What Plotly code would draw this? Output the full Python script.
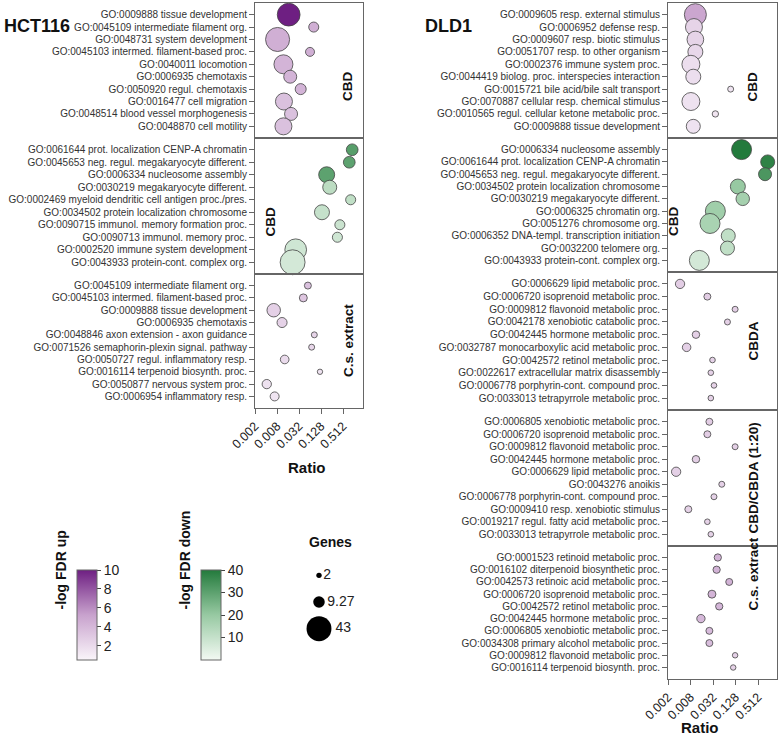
import numpy as np
import plotly.graph_objects as go

W, H = 778, 739

# ---------------- DATA ----------------
hct_cbd_up_terms = ["GO:0009888 tissue development", "GO:0045109 intermediate filament org.",
    "GO:0048731 system development", "GO:0045103 intermed. filament-based proc.",
    "GO:0040011 locomotion", "GO:0006935 chemotaxis", "GO:0050920 regul. chemotaxis",
    "GO:0016477 cell migration", "GO:0048514 blood vessel morphogenesis", "GO:0048870 cell motility"]
hct_cbd_up_ratio = [0.0167, 0.081, 0.0083, 0.064, 0.012, 0.0184, 0.0356, 0.0124, 0.0194, 0.012]
hct_cbd_up_genes = [36, 7, 40, 5.6, 25, 11.7, 8.4, 20, 11.7, 20]
hct_cbd_up_fdr = [10, 4.5, 4.5, 4.5, 4.2, 4.2, 4.2, 3.5, 3.5, 3.5]

hct_cbd_dn_terms = ["GO:0061644 prot. localization CENP-A chromatin", "GO:0045653 neg. regul. megakaryocyte different.",
    "GO:0006334 nucleosome assembly", "GO:0030219 megakaryocyte different.",
    "GO:0002469 myeloid dendritic cell antigen proc./pres.", "GO:0034502 protein localization chromosome",
    "GO:0090715 immunol. memory formation proc.", "GO:0090713 immunol. memory proc.",
    "GO:0002520 immune system development", "GO:0043933 protein-cont. complex org."]
hct_cbd_dn_ratio = [0.914, 0.76, 0.183, 0.222, 0.83, 0.136, 0.42, 0.36, 0.026, 0.0214]
hct_cbd_dn_genes = [9.5, 9.5, 17.7, 13.6, 7, 15.6, 7, 7, 32.6, 43]
hct_cbd_dn_fdr = [31, 30, 30, 12, 11, 10, 9, 8, 8, 7]

hct_cs_terms = ["GO:0045109 intermediate filament org.", "GO:0045103 intermed. filament-based proc.",
    "GO:0009888 tissue development", "GO:0006935 chemotaxis", "GO:0048846 axon extension - axon guidance",
    "GO:0071526 semaphorin-plexin signal. pathway", "GO:0050727 regul. inflammatory resp.",
    "GO:0016114 terpenoid biosynth. proc.", "GO:0050877 nervous system proc.", "GO:0006954 inflammatory resp."]
hct_cs_ratio = [0.056, 0.042, 0.0065, 0.011, 0.084, 0.071, 0.013, 0.12, 0.0042, 0.0069]
hct_cs_genes = [3.4, 4.4, 12.6, 7, 2.5, 2.5, 5.2, 2, 6, 5.6]
hct_cs_fdr = [3.5, 3.2, 2.6, 2.5, 2.4, 2.2, 2.0, 1.6, 1.6, 1.5]

dld_cbd_up_terms = ["GO:0009605 resp. external stimulus", "GO:0006952 defense resp.",
    "GO:0009607 resp. biotic stimulus", "GO:0051707 resp. to other organism",
    "GO:0002376 immune system proc.", "GO:0044419 biolog. proc. interspecies interaction",
    "GO:0015721 bile acid/bile salt transport", "GO:0070887 cellular resp. chemical stimulus",
    "GO:0010565 regul. cellular ketone metabolic proc.", "GO:0009888 tissue development"]
dld_cbd_up_ratio = [0.0108, 0.0099, 0.0108, 0.0108, 0.0082, 0.0095, 0.095, 0.0082, 0.037, 0.0095]
dld_cbd_up_genes = [33.5, 20, 19.3, 15.6, 22.4, 15.6, 2.5, 22.4, 2.8, 13.6]
dld_cbd_up_fdr = [5, 2.4, 2.4, 2.2, 1.8, 1.8, 1.5, 1.6, 1.4, 1.6]

dld_cbd_dn_terms = ["GO:0006334 nucleosome assembly", "GO:0061644 prot. localization CENP-A chromatin",
    "GO:0045653 neg. regul. megakaryocyte different.", "GO:0034502 protein localization chromosome",
    "GO:0030219 megakaryocyte different.", "GO:0006325 chromatin org.", "GO:0051276 chromosome org.",
    "GO:0006352 DNA-templ. transcription initiation", "GO:0032200 telomere org.", "GO:0043933 protein-cont. complex org."]
dld_cbd_dn_ratio = [0.186, 0.93, 0.79, 0.148, 0.2, 0.037, 0.0266, 0.082, 0.078, 0.0138]
dld_cbd_dn_genes = [27.7, 13.6, 11.7, 15.6, 12.6, 27.7, 27.7, 13.6, 13.6, 27.7]
dld_cbd_dn_fdr = [40, 38, 33, 20, 17, 18, 16, 11, 11, 7]

dld_cbda_terms = ["GO:0006629 lipid metabolic proc.", "GO:0006720 isoprenoid metabolic proc.",
    "GO:0009812 flavonoid metabolic proc.", "GO:0042178 xenobiotic catabolic proc.",
    "GO:0042445 hormone metabolic proc.", "GO:0032787 monocarboxylic acid metabolic proc.",
    "GO:0042572 retinol metabolic proc.", "GO:0022617 extracellular matrix disassembly",
    "GO:0006778 porphyrin-cont. compound proc.", "GO:0033013 tetrapyrrole metabolic proc."]
dld_cbda_ratio = [0.0042, 0.0226, 0.125, 0.078, 0.0112, 0.0063, 0.031, 0.028, 0.034, 0.028]
dld_cbda_genes = [6, 3.4, 2.5, 2.5, 3.9, 5, 2.2, 2.2, 2.2, 2.2]
dld_cbda_fdr = [2.8, 2.8, 2.7, 2.6, 2.6, 2.6, 2.5, 2.5, 2.5, 2.5]

dld_mix_terms = ["GO:0006805 xenobiotic metabolic proc.", "GO:0006720 isoprenoid metabolic proc.",
    "GO:0009812 flavonoid metabolic proc.", "GO:0042445 hormone metabolic proc.",
    "GO:0006629 lipid metabolic proc.", "GO:0043276 anoikis", "GO:0006778 porphyrin-cont. compound proc.",
    "GO:0009410 resp. xenobiotic stimulus", "GO:0019217 regul. fatty acid metabolic proc.",
    "GO:0033013 tetrapyrrole metabolic proc."]
dld_mix_ratio = [0.0256, 0.0226, 0.125, 0.0112, 0.0033, 0.055, 0.034, 0.007, 0.0226, 0.028]
dld_mix_genes = [3.4, 3.4, 2.5, 3.9, 6, 2.5, 2.5, 3.4, 2.2, 2.2]
dld_mix_fdr = [2.8, 2.8, 2.7, 2.7, 2.6, 2.6, 2.5, 2.5, 2.5, 2.5]

dld_cs_terms = ["GO:0001523 retinoid metabolic proc.", "GO:0016102 diterpenoid biosynthetic proc.",
    "GO:0042573 retinoic acid metabolic proc.", "GO:0006720 isoprenoid metabolic proc.",
    "GO:0042572 retinol metabolic proc.", "GO:0042445 hormone metabolic proc.",
    "GO:0006805 xenobiotic metabolic proc.", "GO:0034308 primary alcohol metabolic proc.",
    "GO:0009812 flavonoid metabolic proc.", "GO:0016114 terpenoid biosynth. proc."]
dld_cs_ratio = [0.043, 0.040, 0.087, 0.030, 0.047, 0.0152, 0.0256, 0.0256, 0.125, 0.111]
dld_cs_genes = [3.7, 3.7, 3.4, 4.4, 3.7, 4.8, 3.4, 3.4, 2.1, 2.1]
dld_cs_fdr = [4.3, 4.3, 4.3, 4.2, 4.1, 4.0, 3.8, 3.7, 2.6, 2.5]

x_ticks = [0.002, 0.008, 0.032, 0.128, 0.512]
x_tick_labels = ["0.002", "0.008", "0.032", "0.128", "0.512"]
legend_genes = [2, 9.27, 43]
legend_gene_labels = ["2", "9.27", "43"]

# ---------------- LAYOUT HELPERS ----------------
def px_x(p): return p / W
def px_y(p): return 1 - p / H

def size_of(g): return list(3.8 * np.sqrt(np.array(g, dtype=float)))

FONT = "Arial"
GRAY = "#666666"
panels = [
    (hct_cbd_up_terms, hct_cbd_up_ratio, hct_cbd_up_genes, hct_cbd_up_fdr, "coloraxis", (255, 363), (3, 138), "CBD", "right", False),
    (hct_cbd_dn_terms, hct_cbd_dn_ratio, hct_cbd_dn_genes, hct_cbd_dn_fdr, "coloraxis2", (255, 363), (138, 274), "CBD", "left", False),
    (hct_cs_terms, hct_cs_ratio, hct_cs_genes, hct_cs_fdr, "coloraxis", (255, 363), (274, 408), "C.s. extract", "right", True),
    (dld_cbd_up_terms, dld_cbd_up_ratio, dld_cbd_up_genes, dld_cbd_up_fdr, "coloraxis", (668, 777), (3, 138), "CBD", "right", False),
    (dld_cbd_dn_terms, dld_cbd_dn_ratio, dld_cbd_dn_genes, dld_cbd_dn_fdr, "coloraxis2", (668, 777), (138, 272), "CBD", "left", False),
    (dld_cbda_terms, dld_cbda_ratio, dld_cbda_genes, dld_cbda_fdr, "coloraxis", (668, 777), (272, 410), "CBDA", "right", False),
    (dld_mix_terms, dld_mix_ratio, dld_mix_genes, dld_mix_fdr, "coloraxis", (668, 777), (410, 546), "CBD/CBDA (1:20)", "right", False),
    (dld_cs_terms, dld_cs_ratio, dld_cs_genes, dld_cs_fdr, "coloraxis", (668, 777), (546, 679), "C.s. extract", "right", True),
]

fig = go.Figure()
layout = dict(template="none", width=W, height=H, margin=dict(l=0, r=0, t=0, b=0, autoexpand=False),
              paper_bgcolor="white", plot_bgcolor="white", showlegend=False,
              font=dict(family=FONT, color="#333"))
annotations = []

for i, (terms, ratio, genes, fdr, cax, xp, yp, label, side, bottom) in enumerate(panels):
    k = i + 1
    xa = "x" if k == 1 else f"x{k}"
    ya = "y" if k == 1 else f"y{k}"
    fig.add_trace(go.Scatter(
        x=ratio, y=terms, mode="markers", xaxis=xa, yaxis=ya, cliponaxis=False,
        marker=dict(size=size_of(genes), color=fdr, coloraxis=cax,
                    line=dict(color="#444", width=0.8), opacity=1)))
    x0, x1 = xp
    pxstep = 22.0 if x0 == 255 else 22.5
    lo = np.log10(0.002)
    hi = lo + (x1 - x0) * np.log10(4) / pxstep
    xkey = "xaxis" if k == 1 else f"xaxis{k}"
    ykey = "yaxis" if k == 1 else f"yaxis{k}"
    layout[xkey] = dict(domain=[px_x(x0), px_x(x1)], anchor=ya, type="log", range=[lo, hi],
                        automargin=False,
                        showgrid=False, zeroline=False, showline=True, mirror=True,
                        linecolor=GRAY, linewidth=1,
                        tickvals=x_ticks, ticktext=x_tick_labels,
                        ticks="outside" if bottom else "", ticklen=5, tickcolor=GRAY,
                        showticklabels=bottom, tickangle=-45,
                        tickfont=dict(size=12.5, color="#222", family=FONT))
    layout[ykey] = dict(domain=[px_y(yp[1]), px_y(yp[0])], anchor=xa, type="category",
                        automargin=False,
                        categoryorder="array", categoryarray=terms,
                        tickmode="array", tickvals=terms, ticktext=terms,
                        range=[9.94, -0.94], showgrid=False, zeroline=False,
                        showline=True, mirror=True, linecolor=GRAY, linewidth=1,
                        ticks="outside", ticklen=5, tickcolor=GRAY,
                        tickfont=dict(size=10, color="#333", family=FONT))
    if bottom:
        annotations.append(dict(text="<b>Ratio</b>", x=px_x((x0 + x1) / 2 - 2), y=px_y(yp[1] + 59),
                                xref="paper", yref="paper", showarrow=False,
                                font=dict(size=15, color="#111", family=FONT)))
    lx = x1 - 15 if side == "right" else x0 + 15
    annotations.append(dict(text=f"<b>{label}</b>", x=px_x(lx), y=px_y((yp[0] + yp[1]) / 2),
                            xref="paper", yref="paper", showarrow=False, textangle=-90,
                            font=dict(size=13.5, color="#111", family=FONT)))

# size legend
fig.add_trace(go.Scatter(x=[0, 0, 0], y=legend_gene_labels, mode="markers+text",
                         text=legend_gene_labels, textposition="middle right", cliponaxis=False,
                         textfont=dict(size=14, color="#222", family=FONT),
                         xaxis="x9", yaxis="y9",
                         marker=dict(size=size_of(legend_genes), color="#000000", opacity=1,
                                     line=dict(width=0))))
layout["xaxis9"] = dict(domain=[px_x(300), px_x(338)], anchor="y9", range=[-1, 1], visible=False)
layout["yaxis9"] = dict(domain=[px_y(642), px_y(562)], anchor="x9", type="category",
                        range=[2.5, -0.5], visible=False)
annotations.append(dict(text="<b>Genes</b>", x=px_x(330), y=px_y(552), xref="paper", yref="paper",
                        showarrow=False, font=dict(size=14, color="#111", family=FONT)))

layout["coloraxis"] = dict(cmin=0.5, cmax=10,
    colorscale=[[0, "#faf5fa"], [0.5, "#c8a2cd"], [1, "#6e1f82"]],
    colorbar=dict(x=px_x(77), xanchor="left", y=px_y(615), yanchor="middle",
                  len=90, lenmode="pixels", thickness=20, thicknessmode="pixels",
                  outlinecolor=GRAY, outlinewidth=1, tickvals=[2, 4, 6, 8, 10],
                  ticks="outside", ticklen=4, tickcolor="#444", xpad=0, ypad=0,
                  tickfont=dict(size=14, color="#222", family=FONT)))
layout["coloraxis2"] = dict(cmin=0, cmax=40,
    colorscale=[[0, "#f3f9f3"], [0.5, "#97c9a2"], [1, "#237a3c"]],
    colorbar=dict(x=px_x(201), xanchor="left", y=px_y(615), yanchor="middle",
                  len=90, lenmode="pixels", thickness=20, thicknessmode="pixels",
                  outlinecolor=GRAY, outlinewidth=1, tickvals=[10, 20, 30, 40],
                  ticks="outside", ticklen=4, tickcolor="#444", xpad=0, ypad=0,
                  tickfont=dict(size=14, color="#222", family=FONT)))
annotations.append(dict(text="<b>-log FDR up</b>", x=px_x(70), y=px_y(612), xref="paper", yref="paper",
                        xanchor="right", showarrow=False, textangle=-90,
                        font=dict(size=14, color="#111", family=FONT)))
annotations.append(dict(text="<b>-log FDR down</b>", x=px_x(194), y=px_y(612), xref="paper", yref="paper",
                        xanchor="right", showarrow=False, textangle=-90,
                        font=dict(size=14, color="#111", family=FONT)))
annotations.append(dict(text="<b>HCT116</b>", x=px_x(2), y=px_y(14), xref="paper", yref="paper",
                        xanchor="left", showarrow=False, font=dict(size=18, color="#111", family=FONT)))
annotations.append(dict(text="<b>DLD1</b>", x=px_x(423), y=px_y(14), xref="paper", yref="paper",
                        xanchor="left", showarrow=False, font=dict(size=18, color="#111", family=FONT)))
layout["annotations"] = annotations
fig.update_layout(**layout)
fig.write_html("out.html", config={"displayModeBar": False},
               post_script="document.body.style.margin='0';document.body.style.padding='0';")
